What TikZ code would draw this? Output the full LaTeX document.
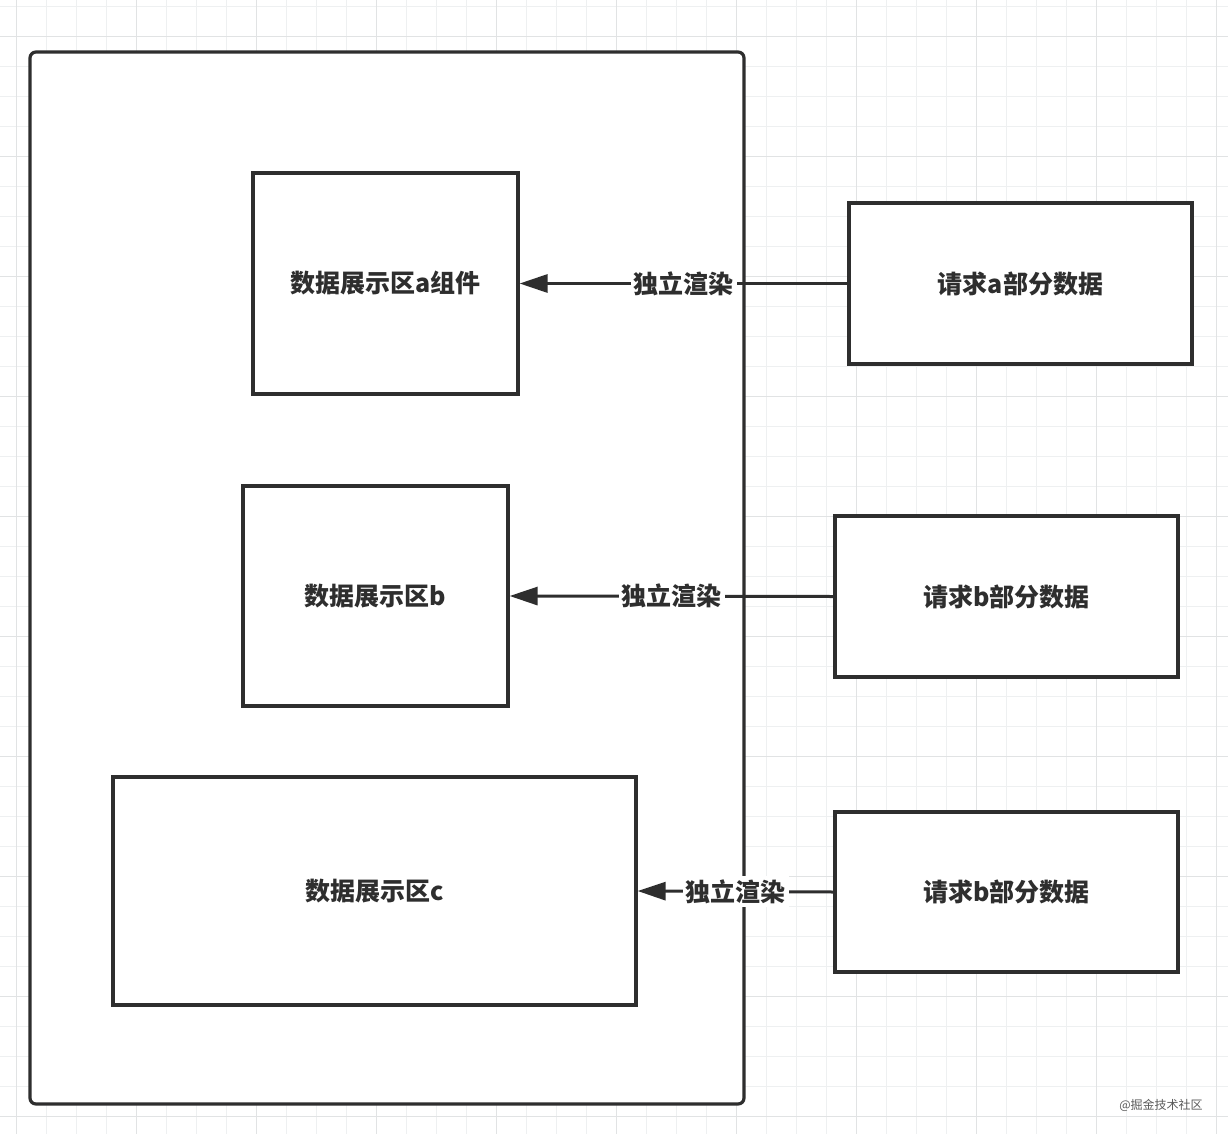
\documentclass[tikz,border=0pt]{standalone}
\usepackage{fontspec}
\newfontfamily\cjk{Noto Sans CJK SC}
\usetikzlibrary{arrows.meta}
\definecolor{ink}{HTML}{2E2E2E}
\definecolor{gridminor}{HTML}{EEF0F1}
\definecolor{gridmajor}{HTML}{E1E3E4}
\begin{document}
\begin{tikzpicture}[x=1pt,y=-1pt,
  box/.style={draw=ink, line width=3.2pt, fill=white, inner sep=0pt,
    font=\cjk\bfseries\fontsize{25}{30}\selectfont, text=ink},
  conn/.style={draw=ink, line width=3pt, -{Triangle[length=28pt,width=18pt]}},
  lbl/.style={fill=white, inner sep=3pt, text=ink,
    font=\cjk\bfseries\fontsize{25}{30}\selectfont},
  wmark/.style={text=black!65, font=\cjk\fontsize{12}{14}\selectfont, inner sep=0pt}]
\useasboundingbox (0,0) rectangle (1228,1134);
\fill[white] (0,0) rectangle (1228,1134);
\begin{scope}
\clip (0,0) rectangle (1228,1134);
\foreach \x in {16.7,46.7,...,1240} \draw[gridminor, line width=1.5pt] (\x,0) -- (\x,1134);
\foreach \y in {6.7,36.7,...,1140} \draw[gridminor, line width=1.5pt] (0,\y) -- (1228,\y);
\foreach \x in {16.7,136.7,...,1240} \draw[gridmajor, line width=1.5pt] (\x,0) -- (\x,1134);
\foreach \y in {36.7,156.7,...,1140} \draw[gridmajor, line width=1.5pt] (0,\y) -- (1228,\y);
\end{scope}
\node[box, rounded corners=6pt, minimum width=714pt, minimum height=1052pt] (outer) at (387,578) {};
\node[box, minimum width=265pt, minimum height=221pt] (a) at (385.5,283.5) {数据展示区a组件};
\node[box, minimum width=265pt, minimum height=220pt] (b) at (375.5,596) {数据展示区b};
\node[box, minimum width=523pt, minimum height=228pt] (c) at (374.5,891) {数据展示区c};
\node[box, minimum width=343pt, minimum height=161pt] (ra) at (1020.5,283.5) {请求a部分数据};
\node[box, minimum width=343pt, minimum height=161pt] (rb) at (1006.5,596.5) {请求b部分数据};
\node[box, minimum width=343pt, minimum height=160pt] (rc) at (1006.5,892) {请求b部分数据};
\draw[conn] (ra.west) -- node[lbl] {独立渲染} (a.east);
\draw[conn] (rb.west) -- node[lbl] {独立渲染} (b.east);
\draw[conn] (rc.west) -- node[lbl] {独立渲染} (c.east);
\node[wmark] (wm) at (1161,1105) {@掘金技术社区};
\end{tikzpicture}
\end{document}
